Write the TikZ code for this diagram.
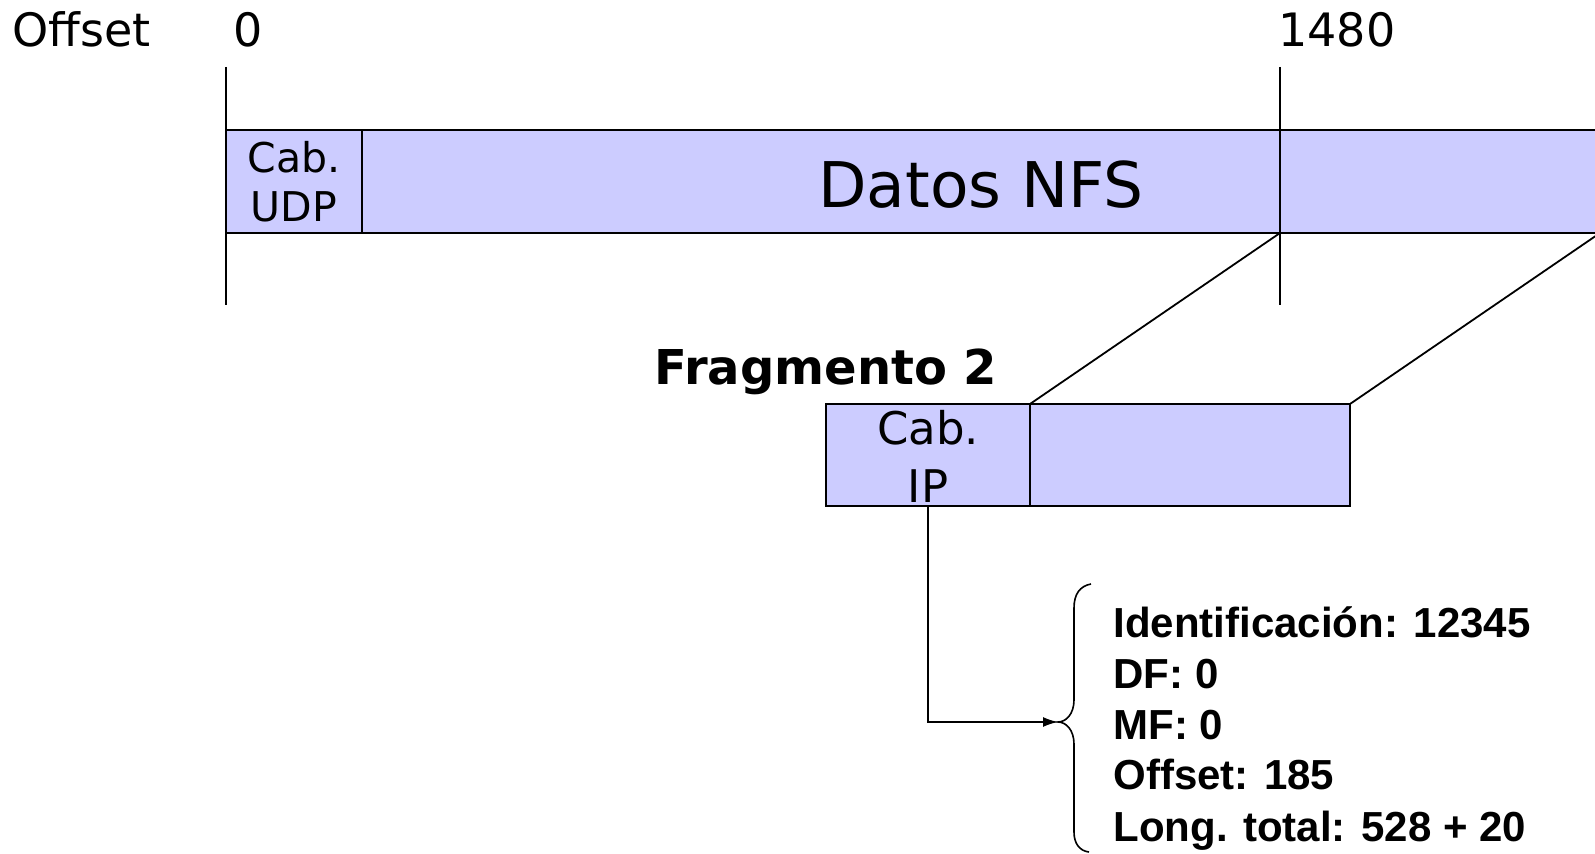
\documentclass[tikz,border=0pt]{standalone}
\usepackage{fontspec}
\setmainfont{DejaVu Sans}
\newfontfamily\arialf{Liberation Sans}
\usetikzlibrary{arrows.meta}
\definecolor{boxfill}{RGB}{204,204,255}
\begin{document}
\begin{tikzpicture}[x=0.5pt,y=-0.5pt,
  seg/.style={draw=black, fill=boxfill, line width=0.9pt, inner sep=0pt, outer sep=0pt, anchor=north west},
  lbl/.style={inner sep=0pt, anchor=base west, font=\fontsize{23}{27}\selectfont},
  ln/.style={line width=0.9pt},
  info/.style={inner sep=0pt, anchor=base west, font=\arialf\bfseries\fontsize{21}{25}\selectfont}]
\useasboundingbox (0,0) rectangle (1595,854);
% top bar
\node[seg, minimum width=68pt, minimum height=51.5pt, align=center,
      font=\fontsize{20.5}{24.5}\selectfont] (udp) at (226,130) {Cab.\\UDP};
\node[seg, minimum width=619pt, minimum height=51.5pt] (datos) at (362,130) {};
\node[inner sep=0pt, anchor=base, font=\fontsize{31.5}{36}\selectfont] (datostxt) at (981,208) {Datos NFS};
% offsets
\node[lbl] (offlbl) at (12,47) {Offset};
\node[lbl] (o0) at (233,47) {0};
\node[lbl] (o1480) at (1278,47) {1480};
\coordinate (t0top) at (226,67);
\coordinate (t0bot) at (226,305);
\coordinate (t1top) at (1280,67);
\coordinate (t1bot) at (1280,305);
\coordinate (t1mid) at (1280,233);
\draw[ln] (t0top) -- (t0bot);
\draw[ln] (t1top) -- (t1bot);
% fragment
\node[inner sep=0pt, anchor=base west, font=\bfseries\fontsize{24}{28}\selectfont] (fragtxt) at (654,385) {Fragmento 2};
\node[seg, minimum width=102pt, minimum height=51pt] (hdr) at (826,404) {};
\node[seg, minimum width=160pt, minimum height=51pt] (fdata) at (1030,404) {};
\node[inner sep=0pt, anchor=base, font=\fontsize{22.5}{29}\selectfont] (hdrtxt1) at (928,445) {Cab.};
\node[inner sep=0pt, anchor=base, font=\fontsize{22.5}{29}\selectfont] (hdrtxt2) at (928,503) {IP};
\draw[ln] (t1mid) -- (fdata.north west);
\draw[ln] (datos.south east) -- (fdata.north east);
% brace
\coordinate (btip) at (1058,722);
\coordinate (btop) at (1091,584);
\coordinate (bbot) at (1089,852);
\draw[line width=0.8pt] (btop) .. controls (1080,586) and (1074,594) .. (1074,608)
  -- (1074,700) .. controls (1074,714) and (1066,722) .. (btip)
  .. controls (1066,722) and (1074,730) .. (1074,744)
  -- (1074,832) .. controls (1074,844) and (1080,851) .. (bbot);
\coordinate (bend) at (hdr.south |- btip);
\draw[ln, -{Latex[length=7.5pt,width=5pt]}] (hdr.south) -- (bend) -- (btip);
% info
\node[info] (l1) at (1113,638) {Identificación: 12345};
\node[info] (l2) at (1113,689) {DF: 0};
\node[info] (l3) at (1113,740) {MF: 0};
\node[info] (l4) at (1113,790) {Offset: 185};
\node[info] (l5) at (1113,841) {Long. total: 528 + 20};
\end{tikzpicture}
\end{document}
